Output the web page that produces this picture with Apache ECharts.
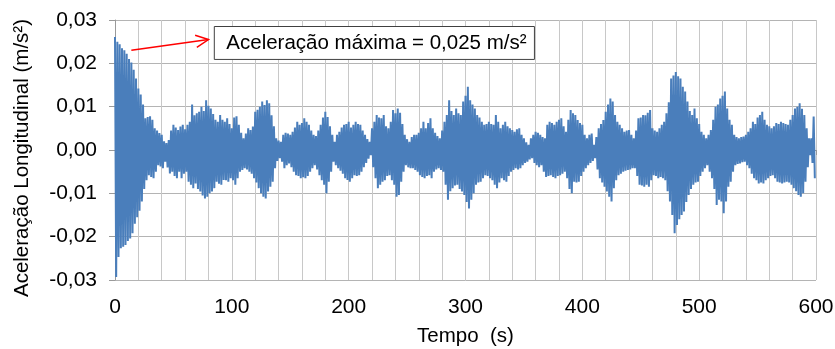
<!DOCTYPE html>
<html>
<head>
<meta charset="utf-8">
<script src="https://cdn.jsdelivr.net/npm/echarts@6/dist/echarts.min.js"></script>
<style>
  html, body { margin: 0; padding: 0; background: #fff; }
  #main { width: 835px; height: 349px; }
</style>
</head>
<body>
<div id="main"></div>
<script>
// envelope of the record, in 10^-3 m/s²
// peaks at t = 0, 2, 4 ... 598 s ; troughs at t = 1, 3, 5 ... 599 s
var peakMilli = [
  26.1, 25.0, 24.4, 23.5, 23.0, 22.2, 21.0, 20.2, 18.5, 16.5,
  14.2, 12.8, 10.5, 7.3, 7.6, 7.8, 7.0, 5.0, 4.5, 3.9,
  3.5, 2.0, 1.6, 2.3, 4.5, 5.8, 5.2, 4.6, 5.4, 5.8,
  4.8, 5.8, 6.5, 10.5, 8.0, 8.5, 8.8, 10.0, 9.0, 11.5,
  10.2, 9.6, 8.3, 7.0, 6.5, 8.1, 7.0, 6.5, 7.3, 6.0,
  5.0, 7.5, 7.8, 5.8, 4.0, 2.7, 3.8, 5.0, 4.6, 5.4,
  8.8, 9.3, 10.0, 11.2, 10.4, 11.5, 10.8, 8.0, 5.5, 2.7,
  2.2, 1.9, 3.5, 4.0, 3.8, 3.5, 4.2, 5.2, 6.5, 5.8,
  6.2, 7.3, 6.5, 5.8, 4.5, 3.5, 3.2, 4.5, 5.8, 7.5,
  8.8, 7.6, 5.5, 3.5, 1.9, 3.5, 4.2, 5.2, 5.8, 6.0,
  6.5, 5.2, 5.8, 6.5, 6.0, 5.8, 4.5, 3.5, 2.5, 1.9,
  5.0, 6.5, 8.1, 7.5, 7.3, 8.1, 5.5, 5.0, 6.5, 9.2,
  8.5, 9.6, 8.6, 6.0, 3.5, 2.5, 1.9, 3.0, 3.5, 3.5,
  4.0, 5.0, 6.5, 5.0, 6.2, 7.3, 5.0, 4.0, 3.2, 2.7,
  4.5, 6.5, 8.1, 11.5, 9.0, 8.1, 9.6, 8.5, 8.1, 11.2,
  12.5, 14.6, 11.5, 10.5, 9.6, 8.1, 7.5, 6.5, 5.8, 6.0,
  6.5, 6.0, 5.8, 8.1, 6.5, 5.0, 5.8, 6.5, 5.5, 5.0,
  4.6, 4.2, 4.8, 5.0, 3.5, 2.7, 1.8, 1.2, 2.7, 3.5,
  4.2, 4.0, 3.5, 3.0, 2.7, 5.8, 6.5, 6.2, 5.8, 6.5,
  7.0, 7.3, 5.5, 4.2, 7.0, 9.2, 8.5, 8.1, 6.9, 6.2,
  5.8, 3.5, 2.7, 3.5, 3.8, 1.2, 3.0, 5.0, 6.0, 6.9,
  8.8, 10.5, 11.9, 11.2, 8.1, 6.5, 5.8, 5.0, 4.2, 4.5,
  4.6, 3.5, 2.7, 4.5, 7.3, 7.5, 8.1, 8.0, 8.6, 9.2,
  5.0, 4.5, 4.2, 5.0, 5.8, 6.5, 8.5, 11.0, 16.5, 17.2,
  18.0, 17.0, 16.5, 14.6, 13.5, 11.2, 9.0, 8.1, 9.6, 7.3,
  6.0, 4.2, 3.5, 2.7, 3.5, 4.6, 7.0, 10.0, 10.5, 11.9,
  12.5, 13.5, 9.6, 7.0, 5.8, 3.5, 3.0, 2.7, 3.0, 3.1,
  3.5, 4.2, 5.0, 6.5, 6.0, 7.5, 8.1, 8.8, 7.0, 5.8,
  5.5, 5.0, 5.5, 6.2, 6.0, 6.5, 6.2, 6.0, 5.8, 7.0,
  8.1, 9.6, 10.0, 10.8, 9.5, 8.1, 5.0, 2.7, 2.7, 7.7
];
var troughMilli = [
  -29.3, -24.7, -22.7, -22.3, -21.9, -21.0, -20.4, -19.2, -17.0, -15.5,
  -14.0, -11.9, -9.0, -7.0, -5.8, -6.2, -6.5, -5.0, -3.5, -3.8,
  -4.2, -2.7, -4.0, -5.4, -5.0, -6.0, -6.5, -5.0, -6.5, -5.5,
  -5.0, -7.3, -8.0, -8.8, -7.7, -9.0, -9.6, -10.5, -11.2, -10.8,
  -10.0, -9.6, -8.8, -7.3, -7.8, -8.0, -6.9, -7.0, -7.3, -6.5,
  -7.0, -8.0, -6.5, -5.0, -4.6, -4.2, -4.5, -5.0, -5.5, -6.5,
  -7.5, -8.8, -10.0, -10.8, -11.2, -9.6, -8.5, -7.3, -4.2, -2.5,
  -1.9, -2.7, -4.2, -3.5, -3.1, -4.0, -5.0, -5.8, -6.0, -6.5,
  -6.3, -6.5, -6.0, -5.0, -4.2, -3.5, -4.5, -5.8, -7.0, -8.0,
  -10.0, -7.3, -5.0, -2.7, -3.5, -4.2, -4.8, -5.5, -6.5, -6.9,
  -7.3, -6.5, -5.8, -6.0, -5.8, -5.0, -4.0, -3.0, -2.0, -1.2,
  -4.0, -6.5, -8.8, -8.0, -7.3, -7.0, -6.0, -5.8, -7.0, -8.0,
  -10.8, -10.4, -7.3, -5.0, -3.5, -4.0, -4.2, -4.2, -4.6, -5.0,
  -5.8, -6.2, -6.5, -6.0, -5.8, -6.5, -5.0, -4.5, -4.2, -4.6,
  -5.0, -8.0, -11.5, -9.5, -8.8, -8.2, -8.0, -9.0, -9.6, -10.4,
  -12.0, -13.5, -11.5, -10.0, -8.0, -7.5, -7.3, -6.5, -5.8, -6.0,
  -6.5, -7.0, -8.0, -8.8, -7.5, -6.5, -7.0, -7.3, -6.0, -5.0,
  -4.6, -4.2, -4.5, -4.2, -3.5, -3.0, -2.7, -2.2, -1.9, -3.0,
  -3.5, -4.0, -3.5, -5.0, -6.2, -6.0, -5.8, -6.2, -6.5, -6.0,
  -5.8, -5.5, -5.0, -6.5, -9.0, -10.0, -7.3, -7.5, -7.3, -6.0,
  -5.0, -4.2, -3.5, -3.0, -2.5, -1.9, -4.5, -6.5, -7.5, -8.5,
  -9.6, -10.8, -11.9, -8.8, -7.0, -5.8, -5.5, -5.0, -4.8, -4.6,
  -4.5, -4.2, -4.2, -6.0, -8.0, -8.2, -8.5, -8.0, -8.5, -7.0,
  -5.8, -6.0, -6.5, -6.2, -6.5, -7.0, -9.5, -11.9, -15.0, -19.2,
  -17.3, -16.0, -15.0, -14.2, -12.0, -10.4, -9.0, -8.0, -7.5, -7.3,
  -6.0, -5.0, -4.2, -3.5, -5.0, -6.5, -9.0, -12.7, -11.5, -11.9,
  -14.6, -11.9, -8.5, -7.3, -5.0, -3.5, -3.2, -3.1, -2.8, -2.7,
  -3.5, -4.2, -5.5, -6.5, -7.0, -7.7, -7.5, -7.7, -7.0, -6.5,
  -6.0, -5.8, -6.5, -7.3, -7.5, -7.7, -7.5, -7.3, -7.5, -8.0,
  -8.8, -9.5, -10.4, -10.8, -10.0, -7.3, -4.0, -1.2, -3.0, -6.5
];
var peakStep = 2;            // s between consecutive peaks
var xTicks = [0, 100, 200, 300, 400, 500, 600];
var yTicks = [-0.03, -0.02, -0.01, 0, 0.01, 0.02, 0.03];
var noteText = 'Aceleração máxima = 0,025 m/s²';

var points = [];
for (var i = 0; i < peakMilli.length; i++) {
    points.push([i * peakStep, peakMilli[i] / 1000]);
    points.push([i * peakStep + peakStep / 2, troughMilli[i] / 1000]);
}

function commaFmt(v) {
    if (Math.abs(v) < 1e-9) v = 0;
    return v.toFixed(2).replace('.', ',');
}

var font = 'Liberation Sans, Arial, sans-serif';

var option = {
    backgroundColor: '#fff',
    animation: false,
    grid: { left: 115, right: 19, top: 20, bottom: 69, outerBoundsMode: 'none', containLabel: false },
    xAxis: {
        type: 'value',
        min: xTicks[0],
        max: xTicks[xTicks.length - 1],
        interval: 20,
        name: 'Tempo  (s)',
        nameLocation: 'middle',
        nameGap: 46,
        nameTextStyle: { fontFamily: font, fontSize: 20.5, color: '#000' },
        axisLine: { lineStyle: { color: '#9a9a9a', width: 1 } },
        axisTick: { show: true, length: 5, lineStyle: { color: '#9a9a9a' } },
        axisLabel: {
            fontFamily: font, fontSize: 21, color: '#000', margin: 17,
            formatter: function (v) { return xTicks.indexOf(v) >= 0 ? String(v) : ''; }
        },
        splitLine: { show: true, lineStyle: { color: '#c8c8c8', width: 1 } }
    },
    yAxis: {
        type: 'value',
        min: yTicks[0],
        max: yTicks[yTicks.length - 1],
        interval: 0.01,
        name: 'Aceleração Longitudinal (m/s²)',
        nameLocation: 'middle',
        nameGap: 82,
        nameTextStyle: { fontFamily: font, fontSize: 20.5, color: '#000', padding: [0, 16, 0, 0] },
        axisLine: { show: true, lineStyle: { color: '#9a9a9a', width: 1 } },
        axisTick: { show: true, length: 6, lineStyle: { color: '#9a9a9a' } },
        axisLabel: { fontFamily: font, fontSize: 21, color: '#000', margin: 18, formatter: commaFmt },
        splitLine: { show: true, lineStyle: { color: '#b4b4b4', width: 1 } }
    },
    series: [{
        type: 'line',
        data: points,
        showSymbol: false,
        sampling: 'none',
        lineStyle: { color: '#4a7ebb', width: 2 },
        z: 3
    }]
};

var myChart = echarts.init(document.getElementById('main'));
myChart.setOption(option);

// annotation: box with the peak value and a red arrow toward the first peaks
var a0 = myChart.convertToPixel({ gridIndex: 0 }, [14, 0.0230]);
var a1 = myChart.convertToPixel({ gridIndex: 0 }, [80, 0.0255]);
var boxTL = myChart.convertToPixel({ gridIndex: 0 }, [85, 0.0285]);
var boxBR = myChart.convertToPixel({ gridIndex: 0 }, [359, 0.0209]);

var ang = Math.atan2(a1[1] - a0[1], a1[0] - a0[0]);
var headLen = 14, headAng = 0.45;
var h1 = [a1[0] - headLen * Math.cos(ang - headAng), a1[1] - headLen * Math.sin(ang - headAng)];
var h2 = [a1[0] - headLen * Math.cos(ang + headAng), a1[1] - headLen * Math.sin(ang + headAng)];

myChart.setOption({
    graphic: [
        {
            type: 'polyline', z: 10,
            shape: { points: [a0, a1] },
            style: { stroke: '#ff0000', lineWidth: 1.5, fill: null }
        },
        {
            type: 'polyline', z: 10,
            shape: { points: [h1, a1, h2] },
            style: { stroke: '#ff0000', lineWidth: 1.5, fill: null }
        },
        {
            type: 'rect', z: 10,
            shape: { x: boxTL[0], y: boxTL[1], width: boxBR[0] - boxTL[0], height: boxBR[1] - boxTL[1] },
            style: { fill: '#fff', stroke: '#404040', lineWidth: 1 }
        },
        {
            type: 'text', z: 11,
            x: boxTL[0] + 12, y: (boxTL[1] + boxBR[1]) / 2,
            style: {
                text: noteText, fontFamily: font, fontSize: 20.5, fill: '#000',
                verticalAlign: 'middle', align: 'left'
            }
        }
    ]
});
</script>
</body>
</html>
